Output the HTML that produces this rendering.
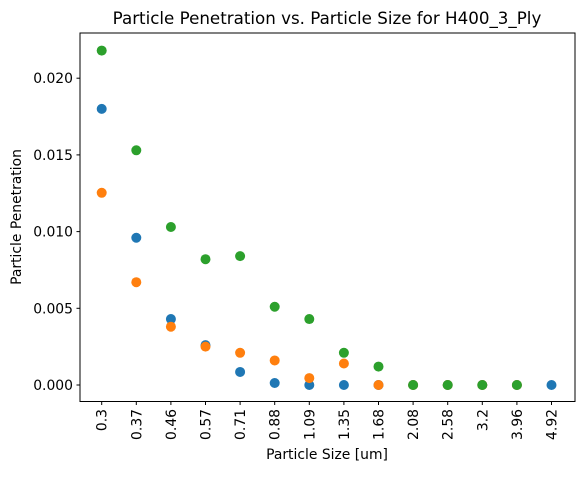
<!DOCTYPE html>
<html><head><meta charset="utf-8"><style>
body{margin:0;background:#fff;font-family:"Liberation Sans","DejaVu Sans",sans-serif}
svg text{font-family:"DejaVu Sans","Liberation Sans",sans-serif;fill:#000}
</style></head><body>
<svg id="chart" width="584" height="472">
<rect width="584" height="472" fill="#fff"/>
<text x="327" y="24" font-size="16.7" text-anchor="middle">Particle Penetration vs. Particle Size for H400_3_Ply</text>
<text x="327" y="459" font-size="13.9" text-anchor="middle">Particle Size [um]</text>
<text transform="translate(21,217) rotate(-90)" font-size="13.9" text-anchor="middle">Particle Penetration</text>
<g id="yticks"></g><g id="xticks"></g><g id="marks"></g>
<rect x="80" y="33" width="495" height="368.5" fill="none" stroke="#000" stroke-width="1"/>
</svg>
<script>
const categories=["0.3","0.37","0.46","0.57","0.71","0.88","1.09","1.35","1.68","2.08","2.58","3.2","3.96","4.92"];
const blue=[0.0180,0.0096,0.0043,0.0026,0.00085,0.00013,0,0,0,0,0,0,0,0];
const orange=[0.01253,0.0067,0.0038,0.0025,0.0021,0.0016,0.00045,0.0014,0,0,0,0,0,null];
const green=[0.0218,0.0153,0.0103,0.0082,0.0084,0.0051,0.0043,0.0021,0.0012,0,0,0,0,null];
const yTicks=[0,0.005,0.010,0.015,0.020];
const yLabels=["0.000","0.005","0.010","0.015","0.020"];
const NS="http://www.w3.org/2000/svg";
function xs(i){return 101.7+i*34.6;}
function ys(v){return 385-v*15340;}
const yt=document.getElementById('yticks'),xt=document.getElementById('xticks'),mk=document.getElementById('marks');
function mkEl(t,a,p){const e=document.createElementNS(NS,t);for(const k in a)e.setAttribute(k,a[k]);p.appendChild(e);return e;}
yTicks.forEach((v,i)=>{
 const l=mkEl('line',{x1:76.5,x2:80,y1:ys(v),y2:ys(v),stroke:'#000'},yt);
 
 
 const t=mkEl('text',{x:73,y:ys(v)+5,'font-size':13.9,'text-anchor':'end'},yt);t.textContent=yLabels[i];
 
 
});
categories.forEach((c,i)=>{
 const l=mkEl('line',{x1:xs(i),x2:xs(i),y1:401.5,y2:405,stroke:'#000'},xt);
 
 
 const t=mkEl('text',{transform:`translate(${xs(i)+5},409) rotate(-90)`,'font-size':13.9,'text-anchor':'end'},xt);t.textContent=c;
 
 
});
[[blue,'#1f77b4','blue'],[orange,'#ff7f0e','orange'],[green,'#2ca02c','green']].forEach(([arr,col,n])=>{
 arr.forEach((v,i)=>{if(v===null)return;
  const c=mkEl('circle',{cx:xs(i),cy:ys(v),r:5,fill:col},mk);
  
  
 });
});
</script>
</body></html>
